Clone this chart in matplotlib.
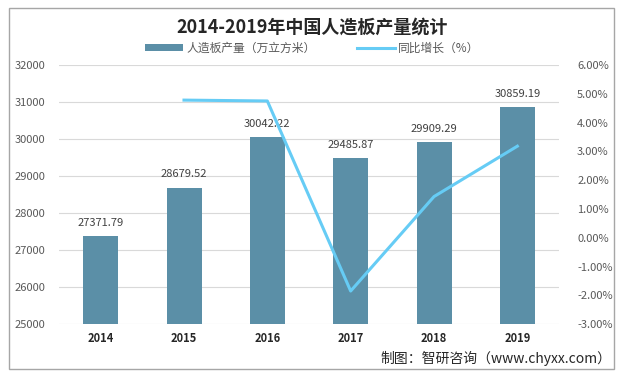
import numpy as np
import matplotlib.pyplot as plt
from matplotlib.patches import Rectangle
from matplotlib.ticker import FuncFormatter

plt.rcParams['font.family'] = ['Noto Sans CJK SC', 'DejaVu Sans']

years = ['2014', '2015', '2016', '2017', '2018', '2019']
output = [27371.79, 28679.52, 30042.22, 29485.87, 29909.29, 30859.19]
growth_years = ['2015', '2016', '2017', '2018', '2019']
growth = [4.78, 4.75, -1.85, 1.43, 3.18]

fig = plt.figure(figsize=(6.25, 3.8), dpi=100)
ax = fig.add_axes([0.0944, 0.147, 0.8, 0.682])
x = np.arange(len(years))

bars = ax.bar(x, output, width=0.42, color='#5B8FA7', label='人造板产量（万立方米）', zorder=2)
ax.set_ylim(25000, 32000)
ax.set_yticks(np.arange(25000, 32001, 1000))
ax.set_xlim(-0.5, len(years) - 0.5)
ax.set_xticks(x)
ax.set_xticklabels(years, fontweight='bold', fontsize=8, color='#262626')
ax.grid(axis='y', color='#D9D9D9', linewidth=0.8, zorder=0)
for s in ax.spines.values():
    s.set_visible(False)
ax.tick_params(axis='both', length=0)
ax.tick_params(axis='y', labelsize=8, labelcolor='#595959', pad=10)
ax.tick_params(axis='x', pad=6)

for xi, v in zip(x, output):
    ax.text(xi, v + 230, f'{v:.2f}', ha='center', va='bottom', fontsize=8, color='#404040')

ax2 = ax.twinx()
gx = [years.index(y) for y in growth_years]
line, = ax2.plot(gx, growth, color='#66CCF5', linewidth=2.2, label='同比增长（%）', zorder=3)
ax2.set_ylim(-3, 6)
ax2.set_yticks(np.arange(-3, 6.01, 1))
ax2.yaxis.set_major_formatter(FuncFormatter(lambda v, p: f'{v:.2f}%'))
for s in ax2.spines.values():
    s.set_visible(False)
ax2.tick_params(axis='y', length=0, labelsize=8, labelcolor='#595959', pad=13)

fig.text(0.5, 0.928, '2014-2019年中国人造板产量统计', ha='center', va='center',
         fontsize=13, fontweight='bold', color='#262626')
fig.legend(handles=[bars, line], loc='center', bbox_to_anchor=(0.5, 0.873), ncol=2,
           frameon=False, fontsize=8.5, handlelength=3.2, handleheight=0.6,
           columnspacing=3.5, labelcolor='#595959', borderaxespad=0, handletextpad=0.3)
fig.text(0.979, 0.058, '制图：智研咨询（www.chyxx.com）', ha='right', va='center',
         fontsize=10, color='#262626')

fig.patches.append(Rectangle((0.015, 0.03), 0.968, 0.95, transform=fig.transFigure,
                             fill=False, edgecolor='#A6A6A6', linewidth=1))

fig.savefig('out.png', dpi=100)
